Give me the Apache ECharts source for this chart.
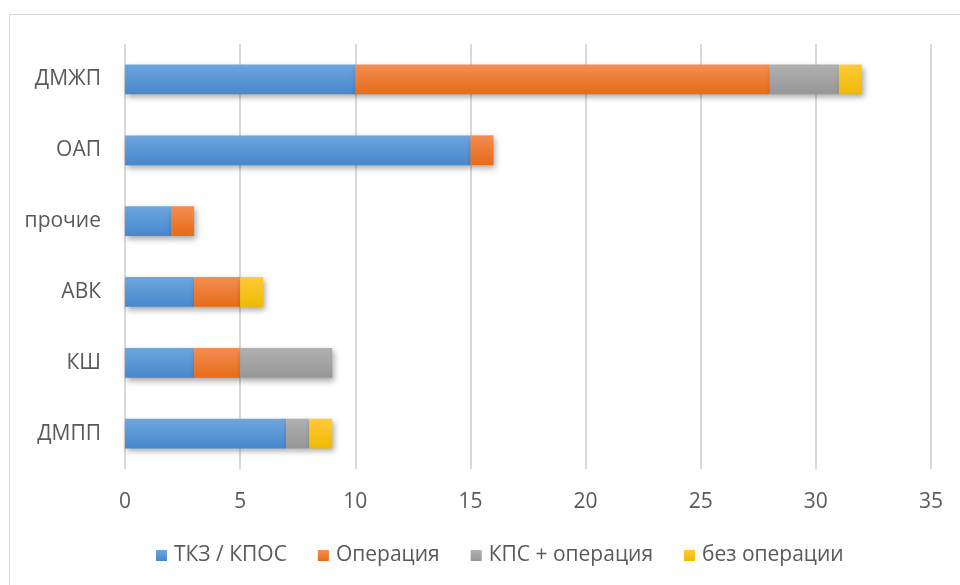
<!DOCTYPE html>
<html>
<head>
<meta charset="utf-8">
<script src="https://cdn.jsdelivr.net/npm/echarts@6/dist/echarts.min.js"></script>
<style>
  html, body { margin: 0; padding: 0; background: #fff; }
  #frame { position: absolute; left: 9px; top: 14px; width: 1000px; height: 640px; border: 1px solid #d9d9d9; box-sizing: border-box; }
  #chart { position: absolute; left: 0; top: 0; width: 960px; height: 585px; }
</style>
</head>
<body>
<div id="frame"></div>
<div id="chart"></div>
<script>
// Categories listed bottom to top
const categories = ['ДМПП', 'КШ', 'АВК', 'прочие', 'ОАП', 'ДМЖП'];
const seriesNames = ['ТКЗ / КПОС', 'Операция', 'КПС + операция', 'без операции'];
const tkzKpos   = [7, 3, 3, 2, 15, 10];
const operation = [0, 2, 2, 1, 1, 18];
const kpsOper   = [1, 4, 0, 0, 0, 3];
const noOper    = [1, 0, 1, 0, 0, 1];
const xTicks = [0, 5, 10, 15, 20, 25, 30, 35];

const palettes = [
  ['#6ea6de', '#4787cc'],
  ['#f48d52', '#e66b17'],
  ['#b0b0b0', '#979797'],
  ['#ffca38', '#efba00']
];

function grad(c) {
  return new echarts.graphic.LinearGradient(0, 0, 0, 1, [
    { offset: 0, color: c[0] },
    { offset: 1, color: c[1] }
  ]);
}

const values = [tkzKpos, operation, kpsOper, noOper];
const font = 'Open Sans';

const chart = echarts.init(document.getElementById('chart'), null, { renderer: 'canvas' });
chart.setOption({
  animation: false,
  backgroundColor: 'transparent',
  textStyle: { fontFamily: font },
  grid: { left: 125, right: 29, top: 44, bottom: 116 },
  legend: {
    bottom: 14,
    left: 151,
    itemWidth: 11,
    itemHeight: 11,
    itemGap: 31,
    icon: 'rect',
    textStyle: { color: '#595959', fontSize: 21, fontFamily: font, padding: [2, 0, 0, 2] },
    data: seriesNames
  },
  xAxis: {
    type: 'value',
    min: xTicks[0],
    max: xTicks[xTicks.length - 1],
    interval: 5,
    axisLine: { show: false },
    axisTick: { show: false },
    axisLabel: { color: '#595959', fontSize: 21, margin: 23, fontFamily: font },
    splitLine: { show: true, lineStyle: { color: '#d9d9d9', width: 2 } }
  },
  yAxis: {
    type: 'category',
    data: categories,
    axisLine: { show: false },
    axisTick: { show: false },
    axisLabel: { color: '#595959', fontSize: 21, margin: 24, fontFamily: font }
  },
  series: seriesNames.map((name, i) => ({
    name: name,
    type: 'bar',
    stack: 'total',
    barWidth: '42%',
    data: values[i],
    itemStyle: {
      color: grad(palettes[i]),
      shadowColor: 'rgba(0,0,0,0.35)',
      shadowBlur: 6,
      shadowOffsetX: 2,
      shadowOffsetY: 3
    }
  }))
});
</script>
</body>
</html>
